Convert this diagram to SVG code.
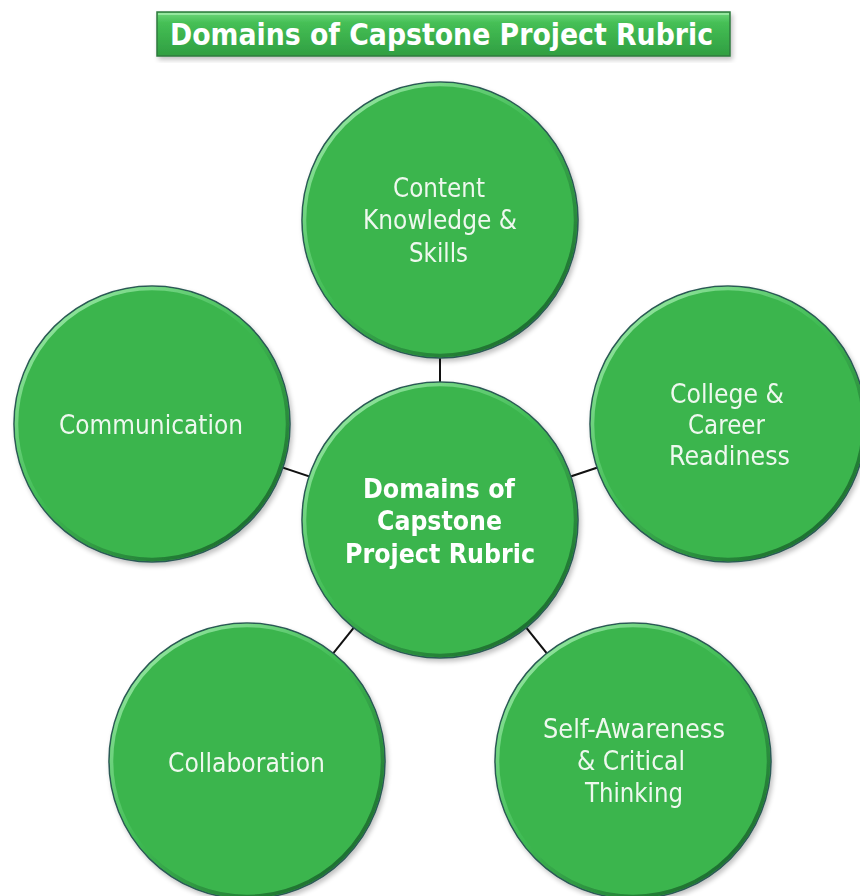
<svg xmlns="http://www.w3.org/2000/svg" width="860" height="896" viewBox="0 0 860 896">
  <defs>
    <linearGradient id="rim" x1="0.15" y1="0.1" x2="0.85" y2="0.9">
      <stop offset="0" stop-color="#8fe39c"/>
      <stop offset="0.45" stop-color="#3fbb53"/>
      <stop offset="1" stop-color="#1d6e2e"/>
    </linearGradient>
    <linearGradient id="titleFill" x1="0" y1="0" x2="0" y2="1">
      <stop offset="0" stop-color="#6fd77b"/>
      <stop offset="0.25" stop-color="#45bf55"/>
      <stop offset="1" stop-color="#2f9e41"/>
    </linearGradient>
    <filter id="shadow" x="-10%" y="-10%" width="125%" height="125%">
      <feGaussianBlur in="SourceAlpha" stdDeviation="2.5"/>
      <feOffset dx="2" dy="3" result="b"/>
      <feComponentTransfer><feFuncA type="linear" slope="0.25"/></feComponentTransfer>
      <feMerge><feMergeNode/><feMergeNode in="SourceGraphic"/></feMerge>
    </filter>
  </defs>
  <style>
    .disc { fill: #3bb54e; stroke: #2c5a55; stroke-width: 1.6; }
    .bevel { fill: none; stroke: url(#rim); stroke-width: 3.5; }
    .lbl { font-family: "DejaVu Sans", "Liberation Sans", sans-serif; font-size: 27px; fill: #eef8ee; text-anchor: middle; }
    .bold { font-weight: bold; fill: #ffffff; }
    .conn line { stroke: #111111; stroke-width: 2; }
  </style>
  <rect width="860" height="896" fill="#ffffff"/>

  <g id="title">
    <rect x="157" y="12" width="573" height="44" fill="url(#titleFill)" stroke="#2f7a3e" stroke-width="1.5" filter="url(#shadow)"/>
    <line x1="158" y1="14" x2="729" y2="14" stroke="#a6eeae" stroke-width="1.5"/>
    <text class="lbl bold" x="441.5" y="45" font-size="30" style="font-size:30px" textLength="543" lengthAdjust="spacingAndGlyphs">Domains of Capstone Project Rubric</text>
  </g>

  <g id="connectors" class="conn">
    <line x1="440" y1="220" x2="440" y2="520"/>
    <line x1="152" y1="424" x2="440" y2="520"/>
    <line x1="728" y1="424" x2="440" y2="520"/>
    <line x1="247" y1="761" x2="440" y2="520"/>
    <line x1="633" y1="761" x2="440" y2="520"/>
  </g>

  <g id="content-knowledge" filter="url(#shadow)">
    <circle class="disc" cx="440" cy="220" r="138"/>
    <circle class="bevel" cx="440" cy="220" r="135.5"/>
    <text class="lbl" x="439" y="197" textLength="92" lengthAdjust="spacingAndGlyphs">Content</text>
    <text class="lbl" x="440" y="229" textLength="154" lengthAdjust="spacingAndGlyphs">Knowledge &amp;</text>
    <text class="lbl" x="438.5" y="262" textLength="59" lengthAdjust="spacingAndGlyphs">Skills</text>
  </g>

  <g id="communication" filter="url(#shadow)">
    <circle class="disc" cx="152" cy="424" r="138"/>
    <circle class="bevel" cx="152" cy="424" r="135.5"/>
    <text class="lbl" x="151" y="434" textLength="184" lengthAdjust="spacingAndGlyphs">Communication</text>
  </g>

  <g id="college-career" filter="url(#shadow)">
    <circle class="disc" cx="728" cy="424" r="138"/>
    <circle class="bevel" cx="728" cy="424" r="135.5"/>
    <text class="lbl" x="727" y="403" textLength="114" lengthAdjust="spacingAndGlyphs">College &amp;</text>
    <text class="lbl" x="726.5" y="434" textLength="77" lengthAdjust="spacingAndGlyphs">Career</text>
    <text class="lbl" x="729.5" y="465" textLength="121" lengthAdjust="spacingAndGlyphs">Readiness</text>
  </g>

  <g id="collaboration" filter="url(#shadow)">
    <circle class="disc" cx="247" cy="761" r="138"/>
    <circle class="bevel" cx="247" cy="761" r="135.5"/>
    <text class="lbl" x="246.5" y="772" textLength="157" lengthAdjust="spacingAndGlyphs">Collaboration</text>
  </g>

  <g id="self-awareness" filter="url(#shadow)">
    <circle class="disc" cx="633" cy="761" r="138"/>
    <circle class="bevel" cx="633" cy="761" r="135.5"/>
    <text class="lbl" x="634" y="738" textLength="182" lengthAdjust="spacingAndGlyphs">Self-Awareness</text>
    <text class="lbl" x="631" y="770" textLength="108" lengthAdjust="spacingAndGlyphs">&amp; Critical</text>
    <text class="lbl" x="634" y="802" textLength="98" lengthAdjust="spacingAndGlyphs">Thinking</text>
  </g>

  <g id="center" filter="url(#shadow)">
    <circle class="disc" cx="440" cy="520" r="138"/>
    <circle class="bevel" cx="440" cy="520" r="135.5"/>
    <text class="lbl bold" x="439" y="498" textLength="152" lengthAdjust="spacingAndGlyphs">Domains of</text>
    <text class="lbl bold" x="439.5" y="530" textLength="125" lengthAdjust="spacingAndGlyphs">Capstone</text>
    <text class="lbl bold" x="440" y="563" textLength="190" lengthAdjust="spacingAndGlyphs">Project Rubric</text>
  </g>
</svg>
